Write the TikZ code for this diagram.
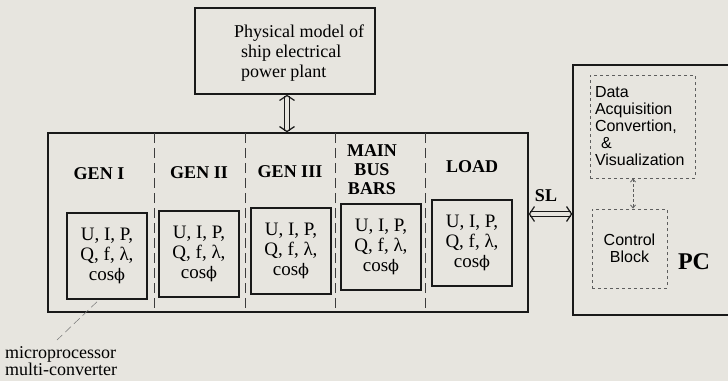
\documentclass[tikz,border=0pt]{standalone}
\usepackage{fontspec}
\setmainfont{Liberation Serif}
\setsansfont{Liberation Sans}
\newfontfamily\phifont{DejaVu Serif}
\usetikzlibrary{arrows.meta,calc}
\definecolor{paper}{RGB}{231,229,223}
\definecolor{ink}{RGB}{25,25,25}
\newcommand{\myphi}{{\phifont\fontsize{16}{16}\selectfont ϕ}}
\begin{document}
\begin{tikzpicture}[x=1pt,y=-1pt,
  solidbox/.style={draw=ink, line width=1.5pt, rectangle, inner sep=0pt},
  valbox/.style={draw=ink, line width=1.5pt, rectangle, inner sep=0pt,
    minimum width=80pt, minimum height=86pt, align=center,
    font=\fontsize{19}{20}\selectfont},
  lab/.style={font=\fontsize{18}{19}\selectfont\bfseries, align=center, inner sep=0pt},
  plain/.style={font=\fontsize{18}{20}\selectfont, align=left, inner sep=0pt},
  divider/.style={draw=ink!85, line width=0.7pt, dash pattern=on 10pt off 5pt},
  dashbox/.style={draw=ink!70, line width=0.9pt, dash pattern=on 3pt off 3pt,
    rectangle, font=\sffamily\fontsize{16}{17}\selectfont},
  dblarrow/.style={draw=ink, line width=1pt, double=paper, double distance=4pt,
    arrows={Straight Barb[length=5pt,width=15pt,line width=1.2pt]-Straight Barb[length=5pt,width=15pt,line width=1.2pt]}},
  dasharrow/.style={draw=ink!70, line width=0.8pt, dash pattern=on 3pt off 2pt,
    arrows={Straight Barb[length=3pt,width=5pt]-Straight Barb[length=3pt,width=5pt]}},
  leader/.style={draw=ink!60, line width=0.5pt, dash pattern=on 8pt off 4pt}]
\fill[paper] (0,0) rectangle (728,381);
\clip (0,0) rectangle (728,381);

% physical model
\node[solidbox, minimum width=180pt, minimum height=86pt] (phys) at (285,51) {};
\node[plain] (physt) at (299,53) {Physical model of\\\hspace*{7pt}ship electrical\\\hspace*{7pt}power plant};

% main box
\node[solidbox, minimum width=480pt, minimum height=179pt] (main) at (288,222.5) {};
\draw[divider] (154,133) -- (154,312);
\draw[divider] (245,133) -- (245,312);
\draw[divider] (335,133) -- (335,312);
\draw[divider] (425,133) -- (425,312);

\coordinate (ax) at (287,0);
\draw[dblarrow] (phys.south -| ax) -- (main.north -| ax);

\node[lab] (l1) at (99,174) {GEN I};
\node[lab] (l2) at (199,173) {GEN II};
\node[lab] (l3) at (290,172) {GEN III};
\node[lab] (l4) at (372,170) {MAIN\\BUS\\BARS};
\node[lab] (l5) at (472,167) {LOAD};

\node[valbox] (v1) at (107,256) {U, I, P,\\Q, f, λ,\\cos\myphi};
\node[valbox] (v2) at (199,254) {U, I, P,\\Q, f, λ,\\cos\myphi};
\node[valbox] (v3) at (291,251) {U, I, P,\\Q, f, λ,\\cos\myphi};
\node[valbox] (v4) at (381,247) {U, I, P,\\Q, f, λ,\\cos\myphi};
\node[valbox] (v5) at (472,243) {U, I, P,\\Q, f, λ,\\cos\myphi};

% leader + caption
\node[font=\fontsize{18}{17}\selectfont, align=left, inner sep=0pt, anchor=west] (mc) at (5,361) {microprocessor\\multi-converter};
\coordinate (lend) at (57,340);
\draw[leader] ($(v1.south)+(-10,2)$) -- (lend);

% PC
\node[solidbox, minimum width=167pt, minimum height=250pt] (pc) at (656.5,190) {};
\coordinate (sly) at (0,214);
\draw[dblarrow] (main.east |- sly) -- (pc.west |- sly);
\node[lab] (sl) at (546,196) {SL};

\node[dashbox, align=left, text width=95pt, inner xsep=5pt, minimum height=103pt] (daq) at (642.5,126.5)
  {Data\\Acquisition\\Convertion,\\\hspace*{6pt}\&\\Visualization};
\node[dashbox, align=center, minimum width=75pt, minimum height=79pt, inner sep=0pt] (cb) at (629.5,248.5)
  {Control\\Block};
\coordinate (cax) at (633,0);
\draw[dasharrow] (daq.south -| cax) -- (cb.north -| cax);

\node[font=\fontsize{24}{24}\selectfont\bfseries, inner sep=0pt] (pcl) at (694,262) {PC};
\end{tikzpicture}
\end{document}
